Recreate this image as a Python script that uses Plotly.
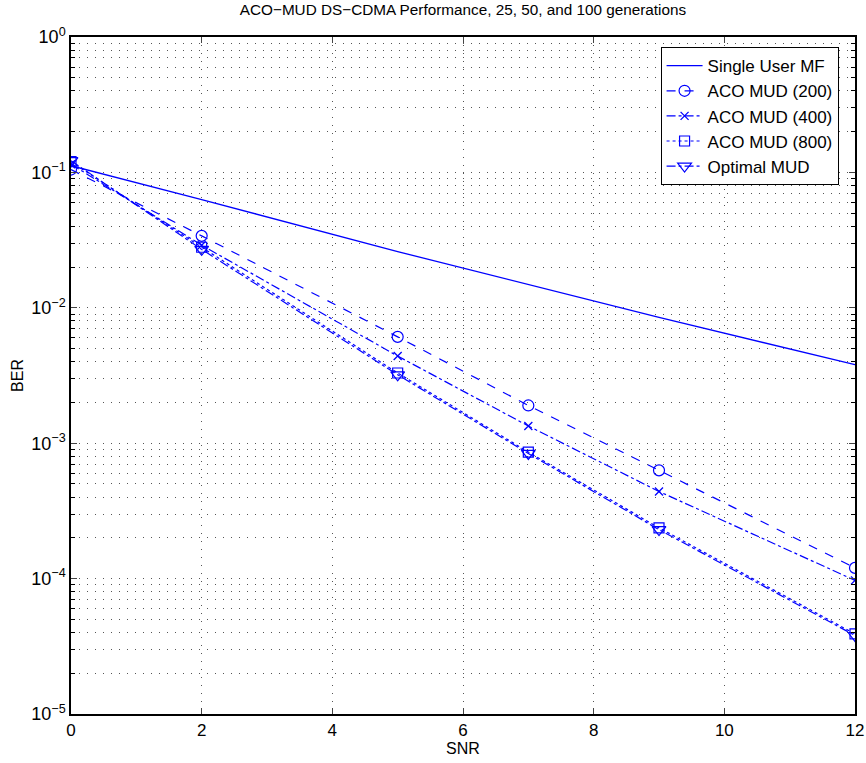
import plotly.graph_objects as go

snr = [0, 2, 5, 7, 9, 12]
single_user_mf = [0.112, 0.063, 0.026, 0.0148, 0.0085, 0.0038]
aco_200 = [0.105, 0.034, 0.0061, 0.0019, 0.00063, 0.00012]
aco_400 = [0.115, 0.029, 0.0044, 0.00134, 0.00044, 0.000097]
aco_800 = [0.12, 0.028, 0.0033, 0.00086, 0.000237, 0.000039]
optimal = [0.122, 0.027, 0.0032, 0.00084, 0.00023, 0.000038]

ytick_vals = [1, 0.1, 0.01, 0.001, 0.0001, 0.00001]
ytick_text = ["10<sup>0</sup>", "10<sup>−1</sup>", "10<sup>−2</sup>", "10<sup>−3</sup>",
              "10<sup>−4</sup>", "10<sup>−5</sup>"]
xtick_vals = [0, 2, 4, 6, 8, 10, 12]

blue = "#0000ff"
grid_color = "#555555"
grid_dash = "1px,7px"

fig = go.Figure()
fig.add_trace(go.Scatter(x=snr, y=single_user_mf, mode="lines", name="Single User MF",
                         line=dict(color=blue, width=1.3)))
fig.add_trace(go.Scatter(x=snr, y=aco_200, mode="lines+markers", name="ACO MUD (200)",
                         line=dict(color=blue, width=1.2, dash="dash"),
                         marker=dict(symbol="circle-open", size=11, color=blue, line=dict(width=1.2))))
fig.add_trace(go.Scatter(x=snr, y=aco_400, mode="lines+markers", name="ACO MUD (400)",
                         line=dict(color=blue, width=1.2, dash="dashdot"),
                         marker=dict(symbol="x-thin-open", size=8, color=blue, line=dict(width=1.3, color=blue))))
fig.add_trace(go.Scatter(x=snr, y=aco_800, mode="lines+markers", name="ACO MUD (800)",
                         line=dict(color=blue, width=1.2, dash="dot"),
                         marker=dict(symbol="square-open", size=10, color=blue, line=dict(width=1.2))))
fig.add_trace(go.Scatter(x=snr, y=optimal, mode="lines+markers", name="Optimal MUD",
                         line=dict(color=blue, width=1.2, dash="dashdot"),
                         marker=dict(symbol="triangle-down-open", size=12, color=blue, line=dict(width=1.2))))

fig.update_layout(
    width=866, height=763,
    paper_bgcolor="white", plot_bgcolor="white",
    font=dict(family="Liberation Sans, Arial, sans-serif", size=15, color="black"),
    margin=dict(l=71, r=11, t=37, b=49, autoexpand=False),
    title=dict(text="ACO−MUD DS−CDMA Performance, 25, 50, and 100 generations",
               x=0.5, xref="paper", xanchor="center", y=0.994, yanchor="top",
               font=dict(size=15.3)),
    showlegend=True,
    legend=dict(x=0.752, y=0.985, xanchor="left", yanchor="top",
                bgcolor="white", bordercolor="black", borderwidth=1,
                font=dict(size=17), tracegroupgap=0, itemwidth=36,
                entrywidth=0),
)
fig.update_xaxes(
    range=[0, 12], tickvals=xtick_vals, ticks="inside", ticklen=6,
    showline=True, linecolor="black", linewidth=1.5, mirror="ticks",
    showgrid=True, gridcolor=grid_color, griddash=grid_dash, gridwidth=1,
    zeroline=False, tickfont=dict(size=17), automargin=False,
    title=dict(text="SNR", font=dict(size=16), standoff=1),
)
fig.update_yaxes(
    type="log", range=[-5, 0], tickvals=ytick_vals, ticktext=ytick_text,
    ticks="inside", ticklen=6,
    showline=True, linecolor="black", linewidth=1.5, mirror="ticks",
    showgrid=True, gridcolor=grid_color, griddash=grid_dash, gridwidth=1,
    minor=dict(ticks="inside", ticklen=4, showgrid=True, gridcolor=grid_color,
               griddash=grid_dash, gridwidth=1, tickcolor="black",
               tickvals=[m * 10 ** e for e in range(-5, 0) for m in range(2, 10)]),
    zeroline=False, tickfont=dict(size=18), automargin=False,
    title=dict(text="BER", font=dict(size=16), standoff=4),
)
fig.write_html("out.html", config={"displayModeBar": False},
               post_script="document.body.style.margin='0';")
